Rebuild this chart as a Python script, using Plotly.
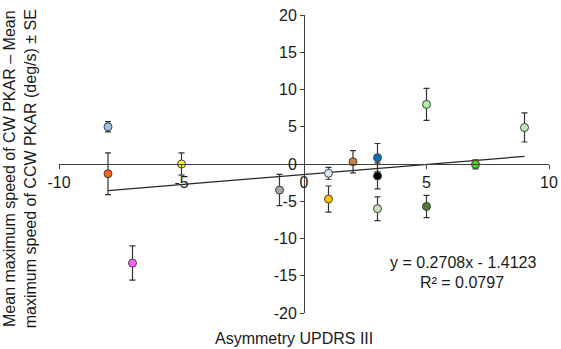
import plotly.graph_objects as go

# Data
asym_updrs = [-8, -8, -7, -5, -1, 1, 1, 2, 3, 3, 3, 5, 5, 7, 9]
speed_diff = [5.0, -1.3, -13.3, 0.0, -3.5, -1.25, -4.7, 0.3, 0.85, -1.6, -6.0, 8.0, -5.7, -0.05, 4.9]
speed_se = [0.7, 2.8, 2.3, 1.5, 2.1, 0.8, 1.75, 1.5, 1.9, 1.75, 1.6, 2.15, 1.5, 0.6, 1.95]
point_colors = ["#9DC3E6", "#FF6309", "#FF66FF", "#FFFF00", "#A6A6A6", "#DAE8F5", "#FFC000",
                "#CD7F3E", "#0070C0", "#000000", "#C5E0B4", "#A8F0A0", "#4E7A32", "#00FF00", "#C9E3BC"]

slope = 0.2708
intercept = -1.4123
r_squared = 0.0797
trend_x = [min(asym_updrs), max(asym_updrs)]

x_ticks = [-10, -5, 0, 5, 10]
y_ticks = [20, 15, 10, 5, 0, -5, -10, -15, -20]

FONT = "Arial, Liberation Sans, sans-serif"
AX = "#404040"

fig = go.Figure()
fig.add_trace(go.Scatter(
    x=trend_x, y=[slope * v + intercept for v in trend_x], mode="lines",
    line=dict(color="#262626", width=1.3), showlegend=False, hoverinfo="skip"))
fig.add_trace(go.Scatter(
    x=asym_updrs, y=speed_diff, mode="markers",
    marker=dict(size=8, color=point_colors, line=dict(color="#404040", width=1)),
    error_y=dict(type="data", array=speed_se, visible=True, color="#333333", thickness=1.2, width=3),
    showlegend=False))

fig.update_layout(
    width=561, height=349,
    margin=dict(l=59, r=12, t=15, b=36),
    paper_bgcolor="white", plot_bgcolor="white",
    font=dict(family=FONT, size=16, color="#1a1a1a"),
    xaxis=dict(range=[-10, 10], tickvals=x_ticks, ticktext=[str(v) for v in x_ticks],
               showline=True, linecolor=AX, linewidth=1, ticks="outside", ticklen=4,
               tickcolor=AX, showgrid=False, zeroline=False, anchor="free", position=0.5,
               automargin=False, tickfont=dict(size=16)),
    yaxis=dict(range=[-20, 20], tickvals=y_ticks, ticktext=[str(v) for v in y_ticks],
               showline=True, linecolor=AX, linewidth=1, ticks="outside", ticklen=4,
               tickcolor=AX, showgrid=False, zeroline=False, anchor="free", position=0.5,
               automargin=False, tickfont=dict(size=16)),
    annotations=[
        dict(text="Mean maximum speed of CW PKAR – Mean<br>maximum speed of CCW PKAR (deg/s) ± SE",
             xref="paper", yref="paper", x=-0.078, y=0.485, textangle=-90,
             xanchor="center", yanchor="middle", showarrow=False,
             font=dict(size=16)),
        dict(text="Asymmetry UPDRS III", xref="paper", yref="paper", x=0.479, y=-0.085,
             xanchor="center", yanchor="middle", showarrow=False, font=dict(size=16)),
        dict(text=f"y = {slope}x - {abs(intercept)}", xref="paper", yref="paper",
             x=0.824, y=0.171, xanchor="center", yanchor="middle", showarrow=False,
             font=dict(size=16)),
        dict(text=f"R² = {r_squared}", xref="paper", yref="paper",
             x=0.823, y=0.104, xanchor="center", yanchor="middle", showarrow=False,
             font=dict(size=16)),
    ],
)

fig.write_html("out.html", config={"displayModeBar": False},
               post_script="document.body.style.margin='0';document.body.style.padding='0';")
